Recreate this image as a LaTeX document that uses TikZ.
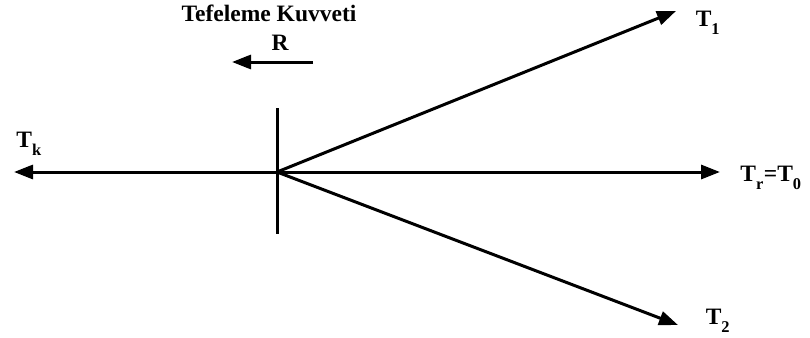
\documentclass[tikz,border=0pt]{standalone}
\usepackage{fontspec}
\setmainfont{Liberation Serif}
\usetikzlibrary{arrows.meta}
\newcommand{\lowsub}[1]{\raisebox{-0.35ex}{\textsubscript{#1}}}
\begin{document}
\begin{tikzpicture}[x=1pt,y=-1pt,
  vec/.style={line width=3pt,-{Triangle[length=19pt,width=14pt]}},
  lbl/.style={font=\fontsize{23.5}{26}\selectfont\bfseries,inner sep=0pt}]
\useasboundingbox (0,0) rectangle (810,337);
\coordinate (O) at (277,172);
\coordinate (top) at (277,108);
\coordinate (bot) at (277,234);
\coordinate (Lk) at (14,172);
\coordinate (L0) at (720,172);
\coordinate (L1) at (676,11);
\coordinate (L2) at (678,325);
\coordinate (Ra) at (313,62);
\coordinate (Rb) at (232,62);
\draw[line width=3pt] (top) -- (bot);
\draw[vec] (O) -- (Lk);
\draw[vec] (O) -- (L0);
\draw[vec] (O) -- (L1);
\draw[vec] (O) -- (L2);
\draw[vec] (Ra) -- (Rb);
\node[lbl] (tk) at (29,144) {T\lowsub{k}};
\node[lbl] (t1) at (708,23) {T\lowsub{1}};
\node[lbl] (t0) at (771,178) {T\lowsub{r}=T\lowsub{0}};
\node[lbl] (t2) at (718,321) {T\lowsub{2}};
\node[lbl] (tef) at (269,13) {Tefeleme Kuvveti};
\node[lbl] (R) at (280,43) {R};
\end{tikzpicture}
\end{document}
